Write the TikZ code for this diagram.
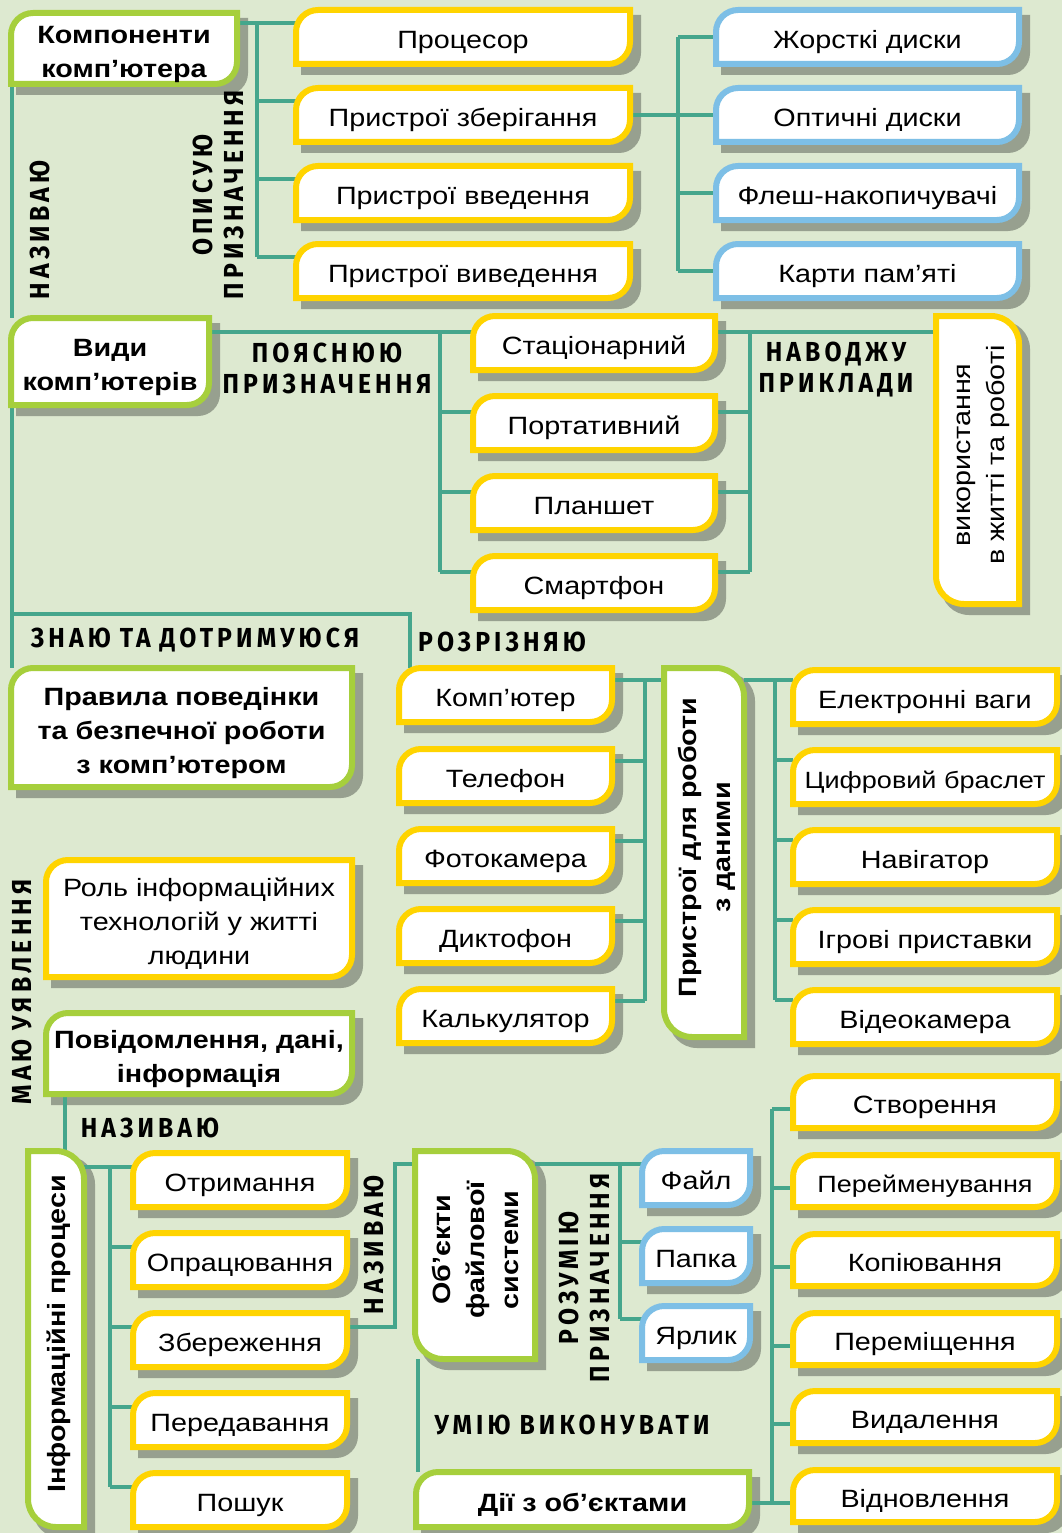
\documentclass[tikz,border=0pt]{standalone}
\usepackage{fontspec}
\usepackage{graphicx}
\setmainfont{Liberation Sans}[FakeStretch=1.15]
\newfontfamily\handfont{Fira Sans}[LetterSpace=15,FakeStretch=0.9]
\usetikzlibrary{calc}
\definecolor{bgc}{HTML}{DDE9D0}
\definecolor{lnc}{HTML}{45A68C}
\definecolor{grn}{HTML}{A6CF3C}
\definecolor{ylw}{HTML}{FFD400}
\definecolor{blu}{HTML}{7DBFE6}
\definecolor{shd}{HTML}{97A08F}
\pgfdeclarelayer{back}\pgfdeclarelayer{shadows}\pgfdeclarelayer{lines}
\pgfsetlayers{back,shadows,lines,main}
% shape A: rounded top-left and bottom-right
\newcommand\shpA[4]{(#1,#4) -- (#1,#2+22) .. controls (#1,#2+9.86) and (#1+9.86,#2) .. (#1+22,#2) -- (#3,#2) -- (#3,#4-22) .. controls (#3,#4-9.86) and (#3-9.86,#4) .. (#3-22,#4) -- cycle}
% shape B: rounded top-right and bottom-left
\newcommand\shpB[4]{(#1,#2) -- (#3-28,#2) .. controls (#3-12.54,#2) and (#3,#2+12.54) .. (#3,#2+28) -- (#3,#4) -- (#1+28,#4) .. controls (#1+12.54,#4) and (#1,#4-12.54) .. (#1,#4-28) -- cycle}
\tikzset{
  conn/.style={draw=lnc, line width=4},
  boxtext/.style={align=center, inner sep=0, text=black, font=\fontsize{25}{34}\selectfont},
  btxt/.style={font=\bfseries\fontsize{25}{34}\selectfont},
  stxt/.style={font=\fontsize{23.5}{34}\selectfont},
  hw/.style={font=\handfont\bfseries\fontsize{27.5}{31}\selectfont, align=center, inner sep=0, text=black},
}
\newcommand\bx[9]{%
  \pgfmathsetmacro\bL{#2+3}\pgfmathsetmacro\bT{#3+3}%
  \pgfmathsetmacro\bR{#4-3}\pgfmathsetmacro\bB{#5-3}%
  \pgfmathsetmacro\sL{#2+8}\pgfmathsetmacro\sT{#3+8}%
  \pgfmathsetmacro\sR{#4+8}\pgfmathsetmacro\sB{#5+8}%
  \pgfmathsetmacro\bW{\bR-\bL}\pgfmathsetmacro\bH{\bB-\bT}%
  \pgfmathsetmacro\bX{(\bL+\bR)/2}\pgfmathsetmacro\bY{(\bT+\bB)/2}%
  \begin{pgfonlayer}{shadows}\fill[shd] #7{\sL}{\sT}{\sR}{\sB};\end{pgfonlayer}%
  \draw[line width=6, draw=#6, fill=white] #7{\bL}{\bT}{\bR}{\bB};%
  \node[boxtext, minimum width=\bW pt, minimum height=\bH pt, #8] (#1) at (\bX,\bY)
    {\raisebox{-5pt}[\height][\depth]{\begin{tabular}{@{}c@{}}#9\end{tabular}}};%
}
\newcommand\rtab[1]{\raisebox{5pt}[\height][\depth]{\hspace*{6pt}\rotatebox{90}{\begin{tabular}{@{}c@{}}#1\end{tabular}}}}
\newcommand\wsp{\hspace{9pt}}
\begin{document}
\begin{tikzpicture}[x=1pt,y=-1pt]
\useasboundingbox (0,0) rectangle (1062,1533);
\begin{pgfonlayer}{back}
  \fill[bgc] (0,0) rectangle (1062,1533);
\end{pgfonlayer}
% ---------- green boxes ----------
\bx{komp}{8}{10}{240}{87}{grn}{\shpA}{btxt}{Компоненти\\комп’ютера}
\bx{vydy}{8}{315}{212}{408}{grn}{\shpA}{btxt}{Види\\комп’ютерів}
\bx{prav}{8}{665}{355}{790}{grn}{\shpA}{btxt}{Правила поведінки\\та безпечної роботи\\з комп’ютером}
\bx{povid}{43}{1010}{355}{1097}{grn}{\shpA}{btxt}{Повідомлення, дані,\\інформація}
\bx{pryst}{661}{665}{747}{1040}{grn}{\shpB}{btxt}{\rtab{Пристрої для роботи\\з даними}}
\bx{info}{25}{1148}{87}{1530}{grn}{\shpB}{btxt}{\rtab{Інформаційні процеси}}
\bx{obj}{412}{1148}{538}{1362}{grn}{\shpB}{btxt}{\rtab{Об’єкти\\файлової\\системи}}
\bx{dii}{413}{1469}{752}{1530}{grn}{\shpA}{btxt}{Дії з об’єктами}
% ---------- column 1 ----------
\bx{proc}{293}{7}{633}{67}{ylw}{\shpA}{}{Процесор}
\bx{store}{293}{85}{633}{145}{ylw}{\shpA}{}{Пристрої зберігання}
\bx{vved}{293}{163}{633}{223}{ylw}{\shpA}{}{Пристрої введення}
\bx{vyv}{293}{241}{633}{301}{ylw}{\shpA}{}{Пристрої виведення}
\bx{hdd}{713}{7}{1022}{67}{blu}{\shpA}{}{Жорсткі диски}
\bx{opt}{713}{85}{1022}{145}{blu}{\shpA}{}{Оптичні диски}
\bx{flash}{713}{163}{1022}{223}{blu}{\shpA}{}{Флеш-накопичувачі}
\bx{card}{713}{241}{1022}{301}{blu}{\shpA}{}{Карти пам’яті}
% ---------- column 2 ----------
\bx{stac}{470}{313}{718}{373}{ylw}{\shpA}{}{Стаціонарний}
\bx{port}{470}{393}{718}{453}{ylw}{\shpA}{}{Портативний}
\bx{plan}{470}{473}{718}{533}{ylw}{\shpA}{}{Планшет}
\bx{smart}{470}{553}{718}{613}{ylw}{\shpA}{}{Смартфон}
\bx{vykor}{933}{313}{1022}{607}{ylw}{\shpB}{}{\rtab{використання\\в житті та роботі}}
% ---------- column 3 / 4 ----------
\bx{pc}{396}{665}{615}{725}{ylw}{\shpA}{}{Комп’ютер}
\bx{tel}{396}{746}{615}{806}{ylw}{\shpA}{}{Телефон}
\bx{foto}{396}{826}{615}{886}{ylw}{\shpA}{}{Фотокамера}
\bx{dikt}{396}{906}{615}{966}{ylw}{\shpA}{}{Диктофон}
\bx{calc}{396}{986}{615}{1046}{ylw}{\shpA}{}{Калькулятор}
\bx{vagy}{790}{667}{1060}{727}{ylw}{\shpA}{}{Електронні ваги}
\bx{brasl}{790}{747}{1060}{807}{ylw}{\shpA}{stxt}{Цифровий браслет}
\bx{navi}{790}{827}{1060}{887}{ylw}{\shpA}{}{Навігатор}
\bx{igry}{790}{907}{1060}{967}{ylw}{\shpA}{}{Ігрові приставки}
\bx{video}{790}{987}{1060}{1047}{ylw}{\shpA}{}{Відеокамера}
\bx{rol}{43}{857}{355}{980}{ylw}{\shpA}{}{Роль інформаційних\\технологій у житті\\людини}
% ---------- column 5 ----------
\bx{otr}{130}{1150}{350}{1210}{ylw}{\shpA}{}{Отримання}
\bx{opr}{130}{1230}{350}{1290}{ylw}{\shpA}{}{Опрацювання}
\bx{zber}{130}{1310}{350}{1370}{ylw}{\shpA}{}{Збереження}
\bx{pered}{130}{1390}{350}{1450}{ylw}{\shpA}{}{Передавання}
\bx{posh}{130}{1470}{350}{1530}{ylw}{\shpA}{}{Пошук}
\bx{file}{639}{1148}{753}{1208}{blu}{\shpA}{}{Файл}
\bx{folder}{639}{1226}{753}{1286}{blu}{\shpA}{}{Папка}
\bx{link}{639}{1303}{753}{1363}{blu}{\shpA}{}{Ярлик}
% ---------- column 6 ----------
\bx{ctv}{790}{1073}{1060}{1131}{ylw}{\shpA}{}{Створення}
\bx{pere}{790}{1152}{1060}{1210}{ylw}{\shpA}{stxt}{Перейменування}
\bx{kopi}{790}{1231}{1060}{1289}{ylw}{\shpA}{}{Копіювання}
\bx{perem}{790}{1310}{1060}{1368}{ylw}{\shpA}{}{Переміщення}
\bx{vyd}{790}{1388}{1060}{1446}{ylw}{\shpA}{}{Видалення}
\bx{vidn}{790}{1467}{1060}{1525}{ylw}{\shpA}{}{Відновлення}
% ---------- handwritten labels ----------
\node[hw, rotate=90] (lnaz1) at (40,230) {НАЗИВАЮ};
\node[hw, rotate=90] (lopys) at (218,195) {ОПИСУЮ\\ПРИЗНАЧЕННЯ};
\node[hw] (lpoya) at (327,368) {ПОЯСНЮЮ\\ПРИЗНАЧЕННЯ};
\node[hw] (lnavo) at (836,370) {НАВОДЖУ\\ПРИКЛАДИ};
\node[hw] (lznay) at (195,640) {ЗНАЮ\wsp ТА\wsp ДОТРИМУЮСЯ};
\node[hw] (lrozr) at (502,642) {РОЗРІЗНЯЮ};
\node[hw, rotate=90] (lmayu) at (22,992) {МАЮ\wsp УЯВЛЕННЯ};
\node[hw] (lnaz2) at (150,1128) {НАЗИВАЮ};
\node[hw, rotate=90] (lnaz3) at (374,1245) {НАЗИВАЮ};
\node[hw, rotate=90] (lrozu) at (584,1278) {РОЗУМІЮ\\ПРИЗНАЧЕННЯ};
\node[hw] (lumiy) at (572,1425) {УМІЮ\wsp ВИКОНУВАТИ};
% ---------- connectors ----------
\coordinate (tL) at (12,0);
\coordinate (t1) at (257,0);
\coordinate (t2) at (678,0);
\coordinate (t4) at (440,0);
\coordinate (t5) at (750,0);
\coordinate (t6) at (645,0);
\coordinate (t7) at (775,0);
\coordinate (t8) at (65,0);
\coordinate (t9) at (110,0);
\coordinate (t10) at (395,0);
\coordinate (t11) at (620,0);
\coordinate (t12) at (418,0);
\coordinate (t13) at (772,0);
\coordinate (j1) at (12,614);
\foreach \c in {proc,store,vved,vyv} {\path (\c.north west) ++(0,13) coordinate (\c-b);}
\foreach \c in {stac,port,plan,smart} {\path (\c.north west) ++(0,16) coordinate (\c-b);
                                       \path (\c.north east) ++(0,16) coordinate (\c-e);}
\foreach \c in {pc,tel,foto,dikt,calc} {\path (\c.north east) ++(0,12) coordinate (\c-e);}
\foreach \c in {vagy,brasl,navi,igry,video} {\path (\c.north west) ++(0,10) coordinate (\c-b);}
\foreach \c in {otr,opr,zber,pered,posh} {\path (\c.north west) ++(0,14) coordinate (\c-b);}
\foreach \c in {file,folder,link} {\path (\c.north west) ++(0,13) coordinate (\c-b);}
\path (obj.north west) ++(0,13) coordinate (obj-b);
\foreach \c in {ctv,pere,kopi,perem,vyd,vidn} {\path (\c.north west) ++(0,33) coordinate (\c-b);}
\begin{pgfonlayer}{lines}
  % components
  \draw[conn] (komp.east |- proc-b) -- (proc-b);
  \draw[conn] (proc-b -| t1) -- (vyv-b -| t1);
  \foreach \c in {store,vved,vyv} {\draw[conn] (\c-b -| t1) -- (\c-b);}
  \draw[conn] (store.east) -- (opt.west);
  \draw[conn] (hdd.west -| t2) -- (card.west -| t2);
  \foreach \c in {hdd,flash,card} {\draw[conn] (\c.west -| t2) -- (\c.west);}
  % left spine
  \draw[conn] (komp.south -| tL) -- (vydy.north -| tL);
  \draw[conn] (vydy.south -| tL) -- (prav.north -| tL);
  \draw[conn] (j1) -| ([xshift=11pt]pc.north west);
  % kinds of computers
  \draw[conn] (vydy.east |- stac-b) -- (stac-b);
  \draw[conn] (stac-b -| t4) -- (smart-b -| t4);
  \foreach \c in {port,plan,smart} {\draw[conn] (\c-b -| t4) -- (\c-b);}
  \draw[conn] (stac-e) -- (vykor.west |- stac-e);
  \draw[conn] (stac-e -| t5) -- (smart-e -| t5);
  \foreach \c in {port,plan,smart} {\draw[conn] (\c-e) -- (\c-e -| t5);}
  % devices
  \draw[conn] (pc-e) -- (pryst.west |- pc-e);
  \draw[conn] (pc-e -| t6) -- (calc-e -| t6);
  \foreach \c in {tel,foto,dikt,calc} {\draw[conn] (\c-e) -- (\c-e -| t6);}
  \draw[conn] (pryst.east |- vagy-b) -- (vagy-b);
  \draw[conn] (vagy-b -| t7) -- (video-b -| t7);
  \foreach \c in {brasl,navi,igry,video} {\draw[conn] (\c-b -| t7) -- (\c-b);}
  % information processes
  \draw[conn] (povid.south -| t8) -- (info.north -| t8);
  \draw[conn] (info.east |- otr-b) -- (otr-b);
  \draw[conn] (otr-b -| t9) -- (posh-b -| t9);
  \foreach \c in {opr,zber,pered,posh} {\draw[conn] (\c-b -| t9) -- (\c-b);}
  \draw[conn] (zber.east |- zber-b) -| (obj-b -| t10) -- (obj-b);
  % file system
  \draw[conn] (obj.east |- file-b) -- (file-b);
  \draw[conn] (file-b -| t11) -- (link-b -| t11);
  \foreach \c in {folder,link} {\draw[conn] (\c-b -| t11) -- (\c-b);}
  \draw[conn] (obj.south -| t12) -- (dii.north -| t12);
  \draw[conn] (dii.east |- vidn-b) -- (vidn-b);
  \draw[conn] (ctv-b -| t13) -- (vidn-b -| t13);
  \foreach \c in {ctv,pere,kopi,perem,vyd} {\draw[conn] (\c-b -| t13) -- (\c-b);}
\end{pgfonlayer}
\end{tikzpicture}
\end{document}
